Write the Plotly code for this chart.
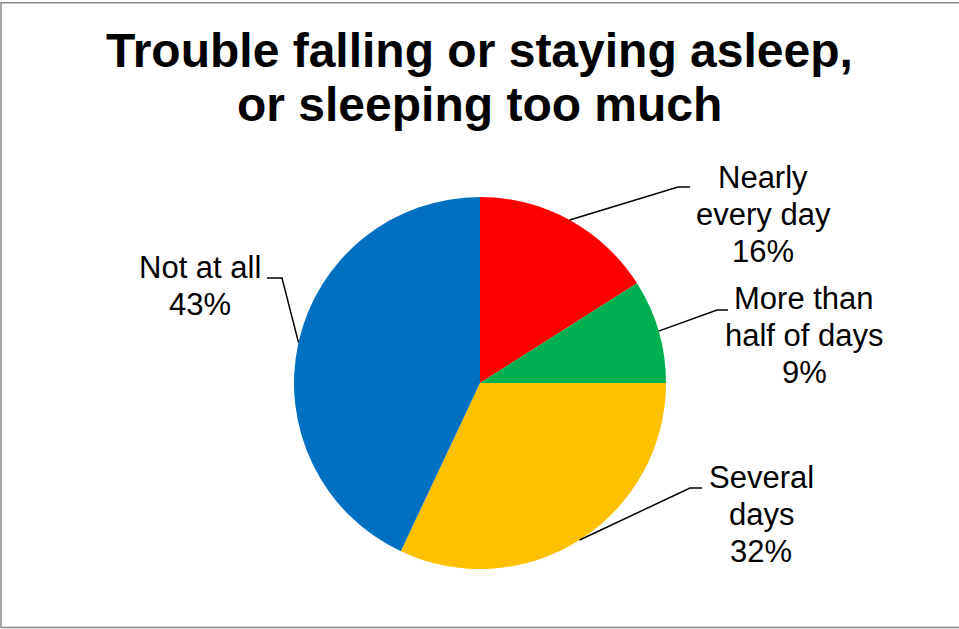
import math
import plotly.graph_objects as go

# ---- data ----
categories = ["Nearly every day", "More than half of days", "Several days", "Not at all"]
label_lines = [["Nearly", "every day"], ["More than", "half of days"], ["Several", "days"], ["Not at all"]]
values = [16, 9, 32, 43]
colors = ["#FF0000", "#00B050", "#FFC000", "#0070C0"]
title_lines = ["Trouble falling or staying asleep,", "or sleeping too much"]

# ---- layout (pixels) ----
W, H = 959, 629
CX, CY, R = 480, 383, 186
label_centers = [(763, 214), (804, 335), (761, 514), (200, 285.5)]
# leader elbow x, stub end x, stub y
leader_stubs = [(678, 690, 187), (717, 728, 310), (690, 702, 488), (282, 267, 278)]
LINE_STEP = 37
LABEL_FONT = 31
TITLE_FONT = 48
title_y = [50.5, 104.5]


def px(x):
    return x / W


def py(y):
    return 1 - y / H


fig = go.Figure(
    go.Pie(
        labels=categories,
        values=values,
        marker=dict(colors=colors, line=dict(width=0)),
        sort=False,
        direction="clockwise",
        rotation=0,
        textinfo="none",
        hoverinfo="label+percent",
        showlegend=False,
        domain=dict(x=[px(CX - R), px(CX + R)], y=[py(CY + R), py(CY - R)]),
    )
)

annotations = []
shapes = []

# title
for line, y in zip(title_lines, title_y):
    annotations.append(dict(
        text=f"<b>{line}</b>", x=0.5, y=py(y), xref="paper", yref="paper",
        xanchor="center", yanchor="middle", showarrow=False,
        font=dict(family="Liberation Sans, Arial", size=TITLE_FONT, color="black"),
    ))

# slice labels with leader lines
total = sum(values)
cum = 0
for lines, v, (lx, ly), (ex, sx, sy) in zip(label_lines, values, label_centers, leader_stubs):
    mid = (cum + v / 2) / total * 2 * math.pi
    cum += v
    all_lines = lines + [f"{v}%"]
    n = len(all_lines)
    for i, t in enumerate(all_lines):
        y = ly + (i - (n - 1) / 2) * LINE_STEP
        annotations.append(dict(
            text=t, x=px(lx), y=py(y), xref="paper", yref="paper",
            xanchor="center", yanchor="middle", showarrow=False,
            font=dict(family="Liberation Sans, Arial", size=LABEL_FONT, color="black"),
        ))
    # point on the pie edge at the slice's mid-angle
    edge_x = CX + R * math.sin(mid)
    edge_y = CY - R * math.cos(mid)
    shapes.append(dict(
        type="path", xref="paper", yref="paper",
        path=f"M {px(edge_x)},{py(edge_y)} L {px(ex)},{py(sy)} L {px(sx)},{py(sy)}",
        line=dict(color="black", width=1.5),
    ))

# chart frame
shapes.append(dict(
    type="rect", xref="paper", yref="paper",
    x0=px(1), x1=px(W + 5), y0=py(627.5), y1=py(2.8),
    line=dict(color="#898989", width=1.5), fillcolor="rgba(0,0,0,0)",
))

fig.update_layout(
    width=W, height=H,
    margin=dict(l=0, r=0, t=0, b=0),
    paper_bgcolor="white", plot_bgcolor="white",
    annotations=annotations, shapes=shapes,
)

fig.write_html("out.html", config={"displayModeBar": False})
